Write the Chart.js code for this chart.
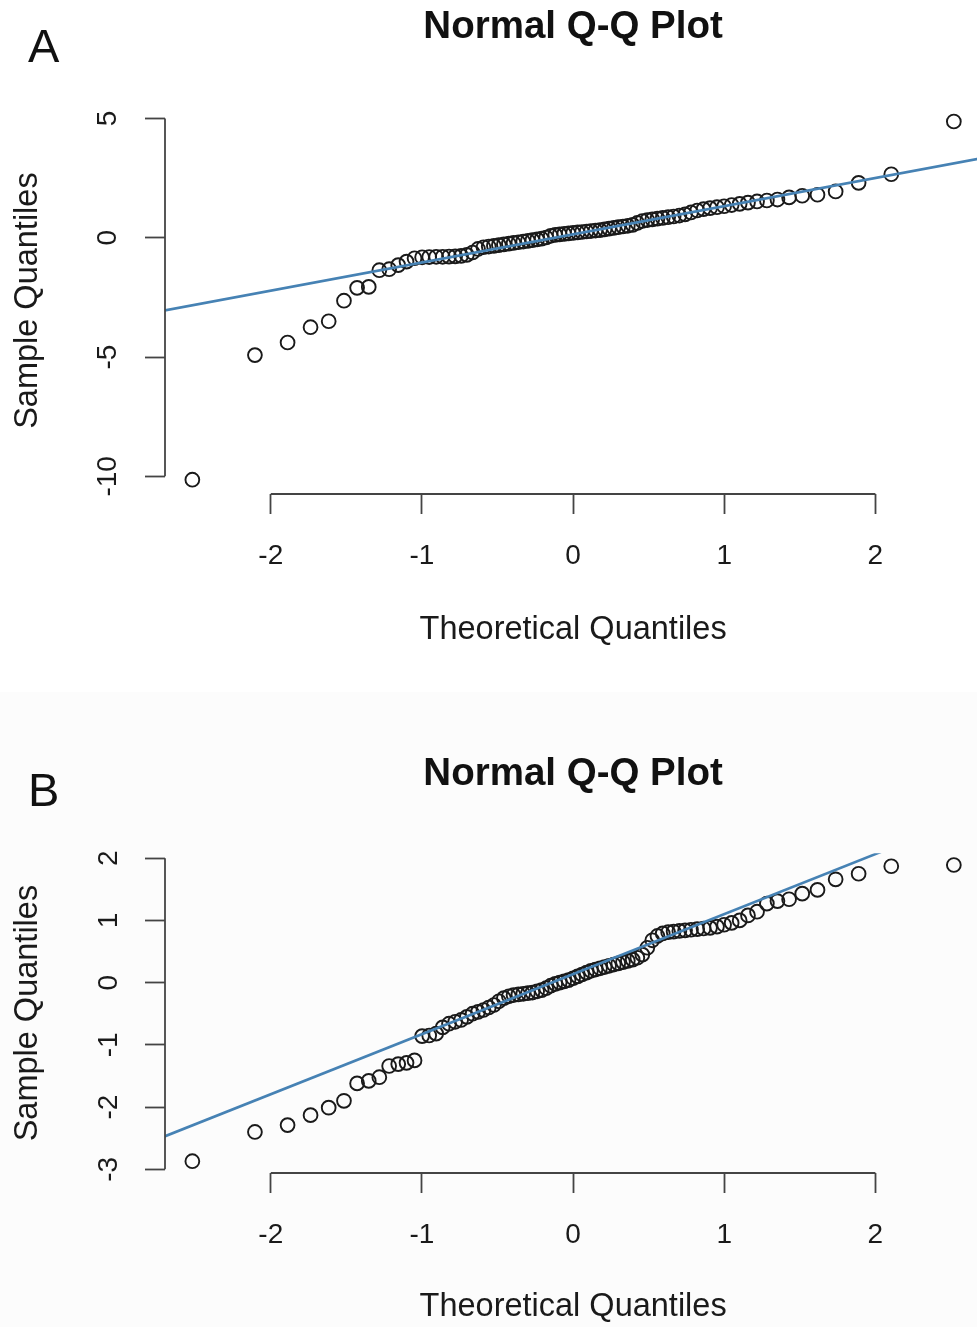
<!DOCTYPE html>
<html lang="en">
<head>
  <meta charset="UTF-8">
  <title>Normal Q-Q Plot</title>
  <script src="https://cdn.jsdelivr.net/npm/chart.js"></script>
  <style>
    html, body {
      margin: 0;
      padding: 0;
      background: #ffffff;
      overflow: hidden;
    }
    .panel {
      width: 990px;
    }
    .panel canvas {
      display: block;
    }
    #panelB {
      background: #fcfcfc;
    }
  </style>
</head>
<body>

<div class="panel" id="panelA">
  <canvas id="qqA" width="990" height="692"></canvas>
</div>
<div class="panel" id="panelB">
  <canvas id="qqB" width="990" height="635"></canvas>
</div>

<script>
  // theoretical quantiles (n = 85), shared by both panels
  const theoretical = [-2.519, -2.105, -1.889, -1.737, -1.617, -1.516, -1.429, -1.352, -1.282, -1.217,
    -1.157, -1.102, -1.049, -0.999, -0.952, -0.906, -0.863, -0.821, -0.780, -0.741,
    -0.703, -0.665, -0.629, -0.593, -0.558, -0.524, -0.491, -0.458, -0.425, -0.394,
    -0.362, -0.330, -0.299, -0.269, -0.238, -0.208, -0.178, -0.148, -0.118, -0.089,
    -0.059, -0.030, 0, 0.030, 0.059, 0.089, 0.118, 0.148, 0.178, 0.208,
    0.238, 0.269, 0.299, 0.330, 0.362, 0.394, 0.425, 0.458, 0.491, 0.524,
    0.558, 0.593, 0.629, 0.665, 0.703, 0.741, 0.780, 0.821, 0.863, 0.906,
    0.952, 0.999, 1.049, 1.102, 1.157, 1.217, 1.282, 1.352, 1.429, 1.516,
    1.617, 1.737, 1.889, 2.105, 2.519];

  // panel A sample quantiles
  const sampleA = [-10.14, -4.92, -4.39, -3.75, -3.50, -2.64, -2.10, -2.06, -1.36, -1.32,
    -1.15, -1.00, -0.86, -0.82, -0.81, -0.80, -0.80, -0.79, -0.78, -0.76,
    -0.72, -0.62, -0.47, -0.40, -0.37, -0.34, -0.31, -0.28, -0.25, -0.22,
    -0.19, -0.16, -0.13, -0.10, -0.07, -0.04, 0.01, 0.08, 0.12, 0.14,
    0.16, 0.18, 0.20, 0.22, 0.24, 0.26, 0.28, 0.30, 0.32, 0.35,
    0.38, 0.41, 0.44, 0.47, 0.50, 0.54, 0.62, 0.70, 0.74, 0.77,
    0.80, 0.83, 0.86, 0.89, 0.93, 0.98, 1.06, 1.14, 1.20, 1.24,
    1.28, 1.32, 1.37, 1.42, 1.47, 1.52, 1.56, 1.60, 1.69, 1.76,
    1.80, 1.94, 2.30, 2.66, 4.87];

  // panel B sample quantiles
  const sampleB = [-2.87, -2.40, -2.29, -2.13, -2.01, -1.90, -1.62, -1.58, -1.52, -1.34,
    -1.31, -1.29, -1.25, -0.86, -0.85, -0.82, -0.72, -0.66, -0.63, -0.60,
    -0.55, -0.50, -0.47, -0.44, -0.40, -0.36, -0.30, -0.25, -0.22, -0.20,
    -0.19, -0.18, -0.17, -0.16, -0.14, -0.12, -0.09, -0.05, -0.02, 0.00,
    0.02, 0.04, 0.07, 0.10, 0.13, 0.16, 0.19, 0.21, 0.23, 0.25,
    0.27, 0.29, 0.31, 0.33, 0.35, 0.37, 0.40, 0.45, 0.56, 0.68,
    0.75, 0.79, 0.81, 0.82, 0.83, 0.84, 0.85, 0.86, 0.87, 0.88,
    0.90, 0.93, 0.96, 1.00, 1.08, 1.14, 1.27, 1.31, 1.34, 1.43,
    1.49, 1.66, 1.75, 1.87, 1.89];

  // qqline end points (clipped by the plot area)
  const lineX = [-3, 3];
  const lineA = [-3.396, 3.684];
  const lineB = [-2.759, 3.031];

  // axis ranges
  const xRange = [-2.70, 2.70];
  const yRangeA = [-10.74, 5.47];
  const yRangeB = [-3.06, 2.08];

  const FONT = '"Liberation Sans", Arial, Helvetica, sans-serif';
  const AXIS = '#444444';
  Chart.defaults.font.family = FONT;
  Chart.defaults.color = '#1a1a1a';

  // R style axes: line only from first to last tick
  const rAxes = {
    id: 'rAxes',
    afterDraw(chart) {
      const ctx = chart.ctx;
      ctx.save();
      ctx.strokeStyle = AXIS;
      ctx.lineWidth = 1.8;
      ['x', 'y'].forEach(id => {
        const s = chart.scales[id];
        const a = s.getPixelForValue(s.ticks[0].value);
        const b = s.getPixelForValue(s.ticks[s.ticks.length - 1].value);
        ctx.beginPath();
        if (id === 'x') { ctx.moveTo(a, s.top); ctx.lineTo(b, s.top); }
        else { ctx.moveTo(s.right, a); ctx.lineTo(s.right, b); }
        ctx.stroke();
      });
      // panel letter
      const o = chart.options.plugins.rAxes;
      ctx.fillStyle = '#111';
      ctx.font = '47px ' + FONT;
      ctx.textAlign = 'left';
      ctx.textBaseline = 'alphabetic';
      ctx.fillText(o.letter, o.lx, o.ly);
      ctx.restore();
    }
  };

  function qqChart(id, sample, lineY, yRange, step, c) {
    return new Chart(document.getElementById(id), {
      type: 'scatter',
      data: {
        datasets: [{
          type: 'line',
          data: lineX.map((x, i) => ({ x: x, y: lineY[i] })),
          borderColor: '#4682b4',
          borderWidth: 2.6,
          pointRadius: 0,
          clip: 0
        }, {
          data: theoretical.map((x, i) => ({ x: x, y: sample[i] })),
          pointStyle: 'circle',
          pointRadius: 6.9,
          borderWidth: 1.9,
          borderColor: '#1a1a1a',
          backgroundColor: 'rgba(0,0,0,0)'
        }]
      },
      options: {
        responsive: false,
        animation: false,
        devicePixelRatio: 1,
        layout: { padding: { top: 0, left: 0, right: 6, bottom: 0 } },
        plugins: {
          legend: { display: false },
          tooltip: { enabled: false },
          title: {
            display: true,
            fullSize: false,
            text: 'Normal Q-Q Plot',
            color: '#111',
            font: { size: 38.5, weight: 'bold' },
            padding: { top: c.titleTop, bottom: c.titleBottom }
          },
          rAxes: { letter: c.letter, lx: 28, ly: c.letterY }
        },
        scales: {
          x: {
            type: 'linear',
            min: xRange[0],
            max: xRange[1],
            afterFit: s => { s.height = c.xHeight; },
            border: { display: false },
            grid: { drawOnChartArea: false, drawTicks: true, tickLength: 20, tickColor: AXIS, tickWidth: 1.8 },
            ticks: { stepSize: 1, includeBounds: false, maxRotation: 0, padding: 25, autoSkip: false, font: { size: 28 }, color: '#1a1a1a' },
            title: { display: true, text: 'Theoretical Quantiles', font: { size: 32.5 }, color: '#1a1a1a', padding: { top: 0, bottom: c.xTitleBottom } }
          },
          y: {
            type: 'linear',
            min: yRange[0],
            max: yRange[1],
            afterFit: s => { s.width = 165; },
            border: { display: false },
            grid: { drawOnChartArea: false, drawTicks: true, tickLength: 20, tickColor: AXIS, tickWidth: 1.8 },
            ticks: { stepSize: step, includeBounds: false, minRotation: 90, maxRotation: 90, crossAlign: 'center', padding: c.yPad, autoSkip: false, font: { size: 28 }, color: '#1a1a1a' },
            title: { display: true, text: 'Sample Quantiles', font: { size: 32.5 }, color: '#1a1a1a', padding: { top: 9, bottom: 0 } }
          }
        }
      },
      plugins: [rAxes]
    });
  }

  qqChart('qqA', sampleA, lineA, yRangeA, 5, {
    letter: 'A', letterY: 62, titleTop: 4, titleBottom: 57, xHeight: 198, xTitleBottom: 42, yPad: 16
  });
  qqChart('qqB', sampleB, lineB, yRangeB, 1, {
    letter: 'B', letterY: 114, titleTop: 59, titleBottom: 56, xHeight: 154, xTitleBottom: 0, yPad: 23.5
  });
</script>

</body>
</html>
